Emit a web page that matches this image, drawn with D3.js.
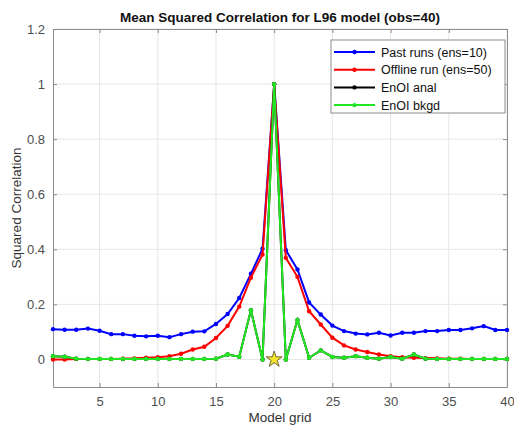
<!DOCTYPE html>
<html>
<head>
<meta charset="utf-8">
<script src="https://cdn.jsdelivr.net/npm/d3@7"></script>
<style>
  body { margin: 0; background: #fff; }
  text { font-family: "Liberation Sans", Arial, sans-serif; }
</style>
</head>
<body>
<script>
'use strict';

// model grid points (x categories)
var gridPoints = [1, 2, 3, 4, 5, 6, 7, 8, 9, 10, 11, 12, 13, 14, 15, 16, 17, 18, 19, 20,
                  21, 22, 23, 24, 25, 26, 27, 28, 29, 30, 31, 32, 33, 34, 35, 36, 37, 38, 39, 40];

var pastRuns = [0.110, 0.108, 0.108, 0.112, 0.104, 0.092, 0.092, 0.086, 0.084, 0.086,
                0.081, 0.092, 0.101, 0.102, 0.129, 0.165, 0.223, 0.311, 0.402, 1.000,
                0.397, 0.327, 0.207, 0.163, 0.123, 0.103, 0.094, 0.091, 0.097, 0.087,
                0.097, 0.097, 0.103, 0.103, 0.107, 0.107, 0.113, 0.121, 0.107, 0.107];

var offlineRun = [0.000, 0.000, 0.002, 0.002, 0.002, 0.002, 0.003, 0.004, 0.006, 0.008,
                  0.012, 0.021, 0.036, 0.046, 0.078, 0.122, 0.192, 0.297, 0.381, 1.000,
                  0.369, 0.300, 0.175, 0.127, 0.079, 0.051, 0.036, 0.027, 0.018, 0.012,
                  0.008, 0.006, 0.005, 0.004, 0.003, 0.003, 0.002, 0.002, 0.002, 0.002];

var enoiAnal = [0.012, 0.010, 0.003, 0.002, 0.002, 0.002, 0.002, 0.002, 0.002, 0.002,
                0.002, 0.002, 0.002, 0.002, 0.003, 0.018, 0.010, 0.179, 0.000, 1.000,
                0.000, 0.143, 0.006, 0.033, 0.009, 0.006, 0.012, 0.006, 0.003, 0.009,
                0.003, 0.018, 0.003, 0.002, 0.002, 0.002, 0.002, 0.002, 0.002, 0.002];

var enoiBkgd = [0.012, 0.010, 0.003, 0.002, 0.002, 0.002, 0.002, 0.002, 0.002, 0.002,
                0.002, 0.002, 0.002, 0.002, 0.003, 0.018, 0.010, 0.179, 0.000, 1.000,
                0.000, 0.143, 0.006, 0.033, 0.009, 0.006, 0.012, 0.006, 0.003, 0.009,
                0.003, 0.018, 0.003, 0.002, 0.002, 0.002, 0.002, 0.002, 0.002, 0.002];

var seriesNames = ["Past runs (ens=10)", "Offline run (ens=50)", "EnOI anal", "EnOI bkgd"];
var xTicks = [5, 10, 15, 20, 25, 30, 35, 40];
var yTicks = [0, 0.2, 0.4, 0.6, 0.8, 1, 1.2];
var obsPoint = [20, 0];

var myChart = {};
myChart.width = 514;
myChart.height = 430;
myChart.margin = {top: 29, right: 7, bottom: 43, left: 53};
myChart.colors = ["#0000ff", "#ff0000", "#000000", "#22e622"];

myChart.innerW = function(){ return myChart.width - myChart.margin.left - myChart.margin.right; };
myChart.innerH = function(){ return myChart.height - myChart.margin.top - myChart.margin.bottom; };

myChart.createXScale = function(){
    return d3.scaleLinear().domain([1, 40]).range([0, myChart.innerW()]);
};

myChart.createYScale = function(){
    return d3.scaleLinear().domain([-0.1, 1.2]).range([myChart.innerH(), 0]);
};

myChart.appendSvg = function(domObj){
    return d3.select(domObj).append("svg")
        .attr("width", myChart.width)
        .attr("height", myChart.height);
};

myChart.appendAxes = function(svg, g){
    var xScale = myChart.createXScale();
    var yScale = myChart.createYScale();
    var w = myChart.innerW(), h = myChart.innerH();

    // grid
    g.selectAll(".vgrid").data(xTicks).enter().append("line")
        .attr("x1", function(d){ return xScale(d); })
        .attr("x2", function(d){ return xScale(d); })
        .attr("y1", 0).attr("y2", h)
        .attr("stroke", "#e6e6e6").attr("stroke-width", 1);
    g.selectAll(".hgrid").data(yTicks).enter().append("line")
        .attr("y1", function(d){ return yScale(d); })
        .attr("y2", function(d){ return yScale(d); })
        .attr("x1", 0).attr("x2", w)
        .attr("stroke", "#e6e6e6").attr("stroke-width", 1);

    // axes, ticks pointing inward like matlab
    var xAxis = g.append("g").attr("transform", "translate(0," + h + ")")
        .call(d3.axisBottom(xScale).tickValues(xTicks).tickSizeInner(-4).tickSizeOuter(0).tickPadding(10));
    var xTop = g.append("g")
        .call(d3.axisTop(xScale).tickValues(xTicks).tickSizeInner(-4).tickSizeOuter(0).tickFormat(""));
    var yAxis = g.append("g")
        .call(d3.axisLeft(yScale).tickValues(yTicks).tickSizeInner(-4).tickSizeOuter(0).tickPadding(8)
              .tickFormat(function(d){ return d3.format("")(d); }));
    var yRight = g.append("g").attr("transform", "translate(" + w + ",0)")
        .call(d3.axisRight(yScale).tickValues(yTicks).tickSizeInner(-4).tickSizeOuter(0).tickFormat(""));

    [xAxis, xTop, yAxis, yRight].forEach(function(a){
        a.selectAll("path").attr("stroke", "#8c8c8c");
        a.selectAll("line").attr("stroke", "#8c8c8c");
        a.selectAll("text").attr("fill", "#4d4d4d").style("font-size", "13px")
            .style("font-family", "'Liberation Sans', Arial, sans-serif");
    });

    svg.append("text")
        .attr("x", myChart.margin.left + w / 2)
        .attr("y", 22)
        .attr("text-anchor", "middle")
        .style("font-size", "13.5px").style("font-weight", "bold")
        .attr("fill", "#111")
        .text("Mean Squared Correlation for L96 model (obs=40)");

    svg.append("text")
        .attr("x", myChart.margin.left + w / 2)
        .attr("y", 422)
        .attr("text-anchor", "middle")
        .style("font-size", "13.5px")
        .attr("fill", "#333")
        .text("Model grid");

    svg.append("text")
        .attr("transform", "translate(21," + (myChart.margin.top + h / 2) + ") rotate(-90)")
        .attr("text-anchor", "middle")
        .style("font-size", "13.5px")
        .attr("fill", "#333")
        .text("Squared Correlation");
};

myChart.appendLines = function(g){
    var xScale = myChart.createXScale();
    var yScale = myChart.createYScale();
    var allSeries = [pastRuns, offlineRun, enoiAnal, enoiBkgd];

    var line = d3.line()
        .x(function(d, i){ return xScale(gridPoints[i]); })
        .y(function(d){ return yScale(d); });

    allSeries.forEach(function(values, s){
        var sg = g.append("g");
        sg.append("path")
            .datum(values)
            .attr("d", line)
            .attr("fill", "none")
            .attr("stroke", myChart.colors[s])
            .attr("stroke-width", 2);
        sg.selectAll("circle").data(values).enter().append("circle")
            .attr("cx", function(d, i){ return xScale(gridPoints[i]); })
            .attr("cy", function(d){ return yScale(d); })
            .attr("r", 2.2)
            .attr("fill", myChart.colors[s]);
    });

    g.append("path")
        .attr("d", d3.symbol().type(d3.symbolStar).size(80)())
        .attr("transform", "translate(" + xScale(obsPoint[0]) + "," + yScale(obsPoint[1]) + ")")
        .attr("fill", "#f5e52f")
        .attr("stroke", "#6e6a3c")
        .attr("stroke-width", 1);
};

myChart.appendLegend = function(svg){
    var lg = svg.append("g").attr("transform", "translate(331,40)");
    lg.append("rect")
        .attr("width", 174).attr("height", 73)
        .attr("fill", "#fff").attr("stroke", "#8c8c8c");
    seriesNames.forEach(function(name, i){
        var y = 12 + i * 17.7;
        lg.append("line")
            .attr("x1", 3).attr("x2", 44).attr("y1", y).attr("y2", y)
            .attr("stroke", myChart.colors[i]).attr("stroke-width", 2);
        lg.append("circle").attr("cx", 23.5).attr("cy", y).attr("r", 2.2)
            .attr("fill", myChart.colors[i]);
        lg.append("text").attr("x", 50).attr("y", y + 4.5)
            .style("font-size", "12.5px").attr("fill", "#111")
            .text(name);
    });
};

myChart.run = function(){
    var svg = myChart.appendSvg("body");
    var g = svg.append("g")
        .attr("transform", "translate(" + myChart.margin.left + "," + myChart.margin.top + ")");
    myChart.appendAxes(svg, g);
    myChart.appendLines(g);
    myChart.appendLegend(svg);
};

window.onload = myChart.run;
</script>
</body>
</html>
